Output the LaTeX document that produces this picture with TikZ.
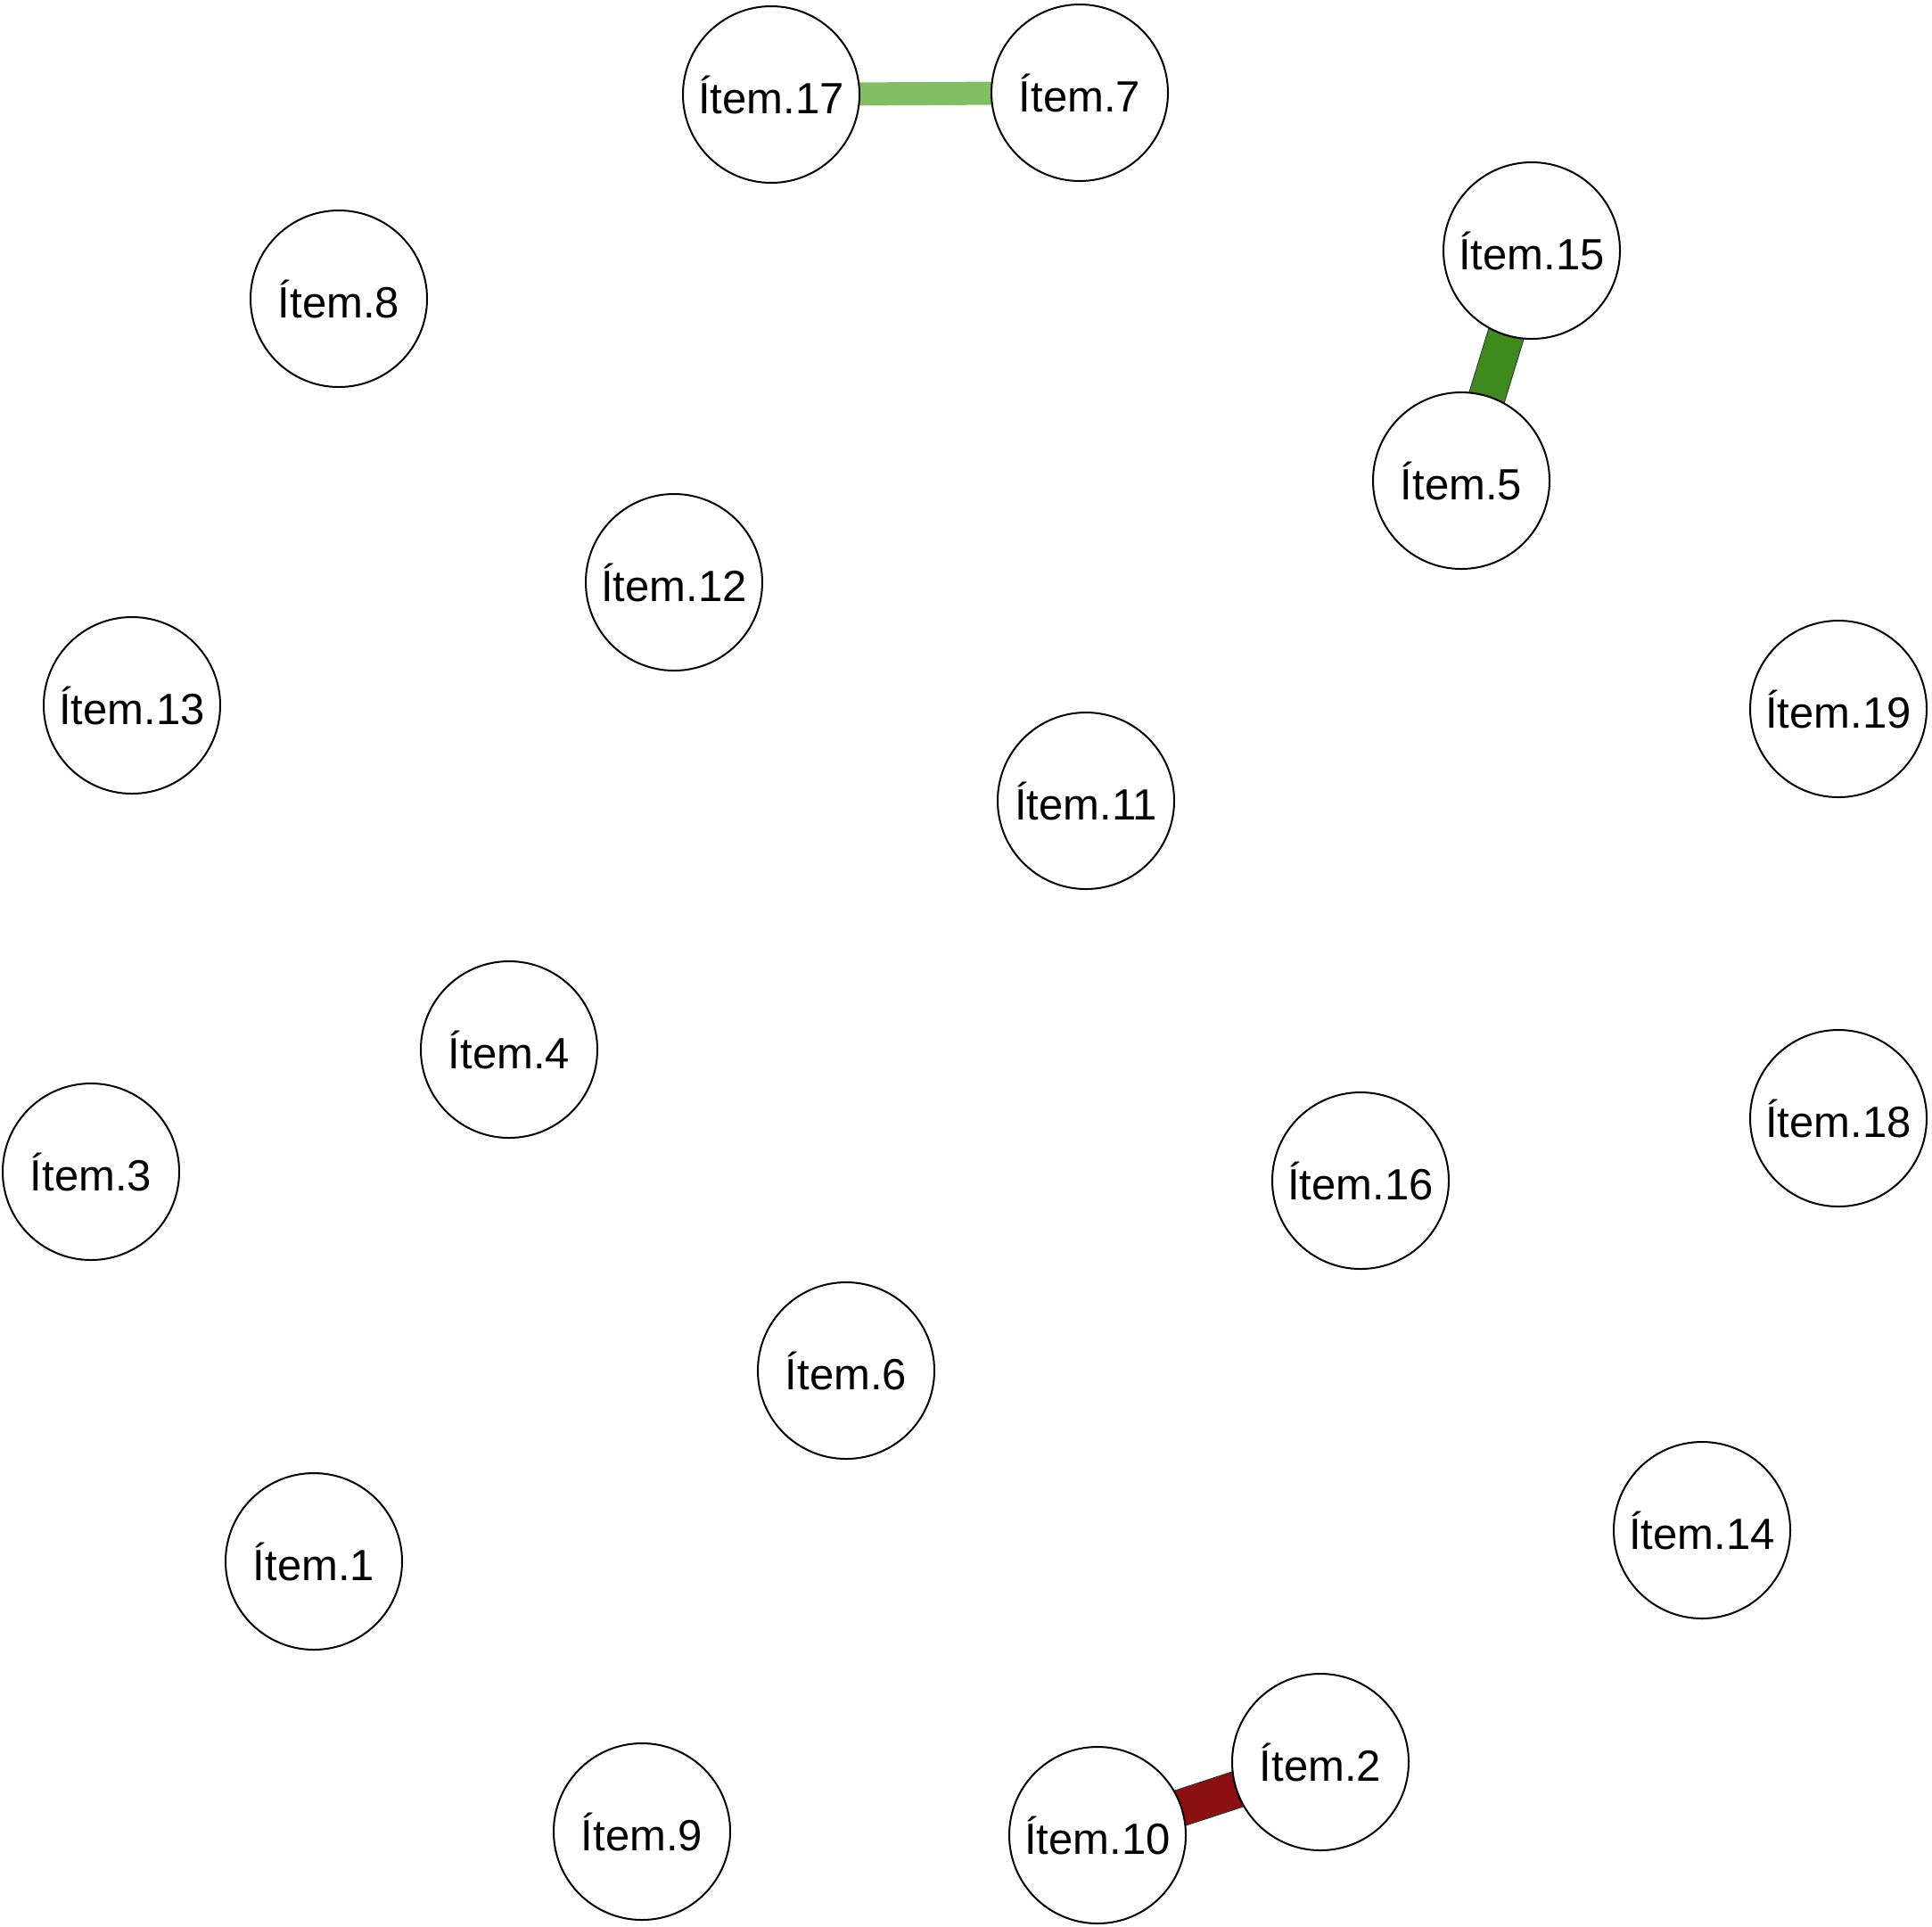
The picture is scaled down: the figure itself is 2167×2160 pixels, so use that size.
\documentclass[tikz,border=0pt]{standalone}
\usepackage{fontspec}
\setmainfont{Liberation Sans}
\pgfdeclarelayer{bg}
\pgfsetlayers{bg,main}
\definecolor{lgreen}{RGB}{130,190,100}
\definecolor{dgreen}{RGB}{62,138,28}
\definecolor{dred}{RGB}{140,16,18}
\tikzset{
  item/.style={circle,draw=black,line width=1pt,fill=white,minimum size=99pt,inner sep=0pt,font=\fontsize{24.5}{28}\selectfont},
  thickedge/.style={line width=20pt,preaction={draw=black!80,line width=21pt}}
}
\begin{document}
\begin{tikzpicture}[x=0.5pt,y=-0.5pt]
\useasboundingbox (0,0) rectangle (2167,2160);
\node[item] (n17) at (865,106) {Ítem.17};
\node[item] (n7) at (1211,104) {Ítem.7};
\node[item] (n8) at (380,335) {Ítem.8};
\node[item] (n15) at (1718,281) {Ítem.15};
\node[item] (n5) at (1639,539) {Ítem.5};
\node[item] (n12) at (756,653) {Ítem.12};
\node[item] (n13) at (148,791) {Ítem.13};
\node[item] (n19) at (2062,795) {Ítem.19};
\node[item] (n11) at (1218,898) {Ítem.11};
\node[item] (n4) at (571,1177) {Ítem.4};
\node[item] (n18) at (2062,1254) {Ítem.18};
\node[item] (n3) at (102,1314) {Ítem.3};
\node[item] (n16) at (1526,1324) {Ítem.16};
\node[item] (n6) at (949,1537) {Ítem.6};
\node[item] (n14) at (1909,1716) {Ítem.14};
\node[item] (n1) at (352,1751) {Ítem.1};
\node[item] (n9) at (720,2054) {Ítem.9};
\node[item] (n2) at (1481,1976) {Ítem.2};
\node[item] (n10) at (1231,2058) {Ítem.10};
\begin{pgfonlayer}{bg}
\draw[lgreen,line width=13pt] (n17.center) -- (n7.center);
\draw[dgreen,thickedge] (n15.center) -- (n5.center);
\draw[dred,thickedge] (n10.center) -- (n2.center);
\end{pgfonlayer}
\end{tikzpicture}
\end{document}
